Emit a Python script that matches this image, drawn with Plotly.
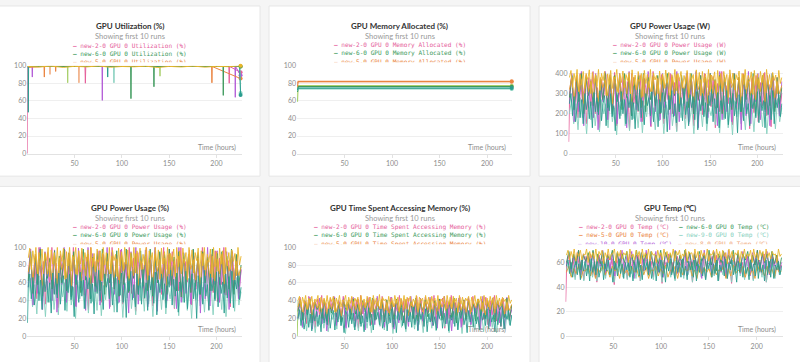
import plotly.graph_objects as go

W, H = 800, 362

# ---------------- colours of the runs ----------------
PINK, GREEN, ORANGE, MINT = "#E5609B", "#3E9A5D", "#EA8441", "#85CFBD"
PURPLE, PEACH, GOLD, TEAL, LIME = "#B35CD7", "#EFA77A", "#E9B52A", "#2A9D8F", "#A9D06D"
GOLD2 = "#E3A12F"

X_TICKS = [50, 100, 150, 200]

# ---------------- panel 1: GPU Utilization (%) ----------------
util_pink_x = [0.1, 0.4, 61.0, 61.4, 61.8, 213.1, 213.5, 213.9, 225.5]
util_pink_y = [0, 99, 99, 80, 99, 99, 80, 99, 92.5]
util_purple_x = [0.5, 5.0, 5.3, 5.6, 79.0, 79.3, 79.6, 219.6, 219.9, 220.2, 225.5]
util_purple_y = [98, 99, 87, 99, 99, 60.5, 99, 99, 64, 99, 89]
util_orange_x = [0.5, 17.7, 18.0, 18.3, 29.7, 30.0, 30.3, 194.9, 195.2, 195.5, 225.5]
util_orange_y = [98, 99, 87, 99, 99, 93.4, 99, 99, 80.5, 99, 85.3]
util_peach_x = [0.5, 23.7, 24.0, 24.3, 54.3, 54.6, 54.9, 225.5]
util_peach_y = [99, 99.5, 90, 99.5, 99.5, 80.5, 99.5, 99]
util_lime_x = [0.5, 42.4, 42.7, 43.0, 140.0, 140.3, 140.6, 225.5]
util_lime_y = [99, 99, 80.5, 99, 99, 88, 99, 99]
util_teal_x = [0.7, 1.0, 1.4, 84.7, 85.0, 85.3, 224.5, 225.5]
util_teal_y = [99, 47, 99, 99, 87, 99, 99, 66.5]
util_mint_x = [0.5, 91.3, 91.6, 91.9, 224.8, 225.5]
util_mint_y = [99, 99, 80.5, 99, 99, 69]
util_green_x = [0.5, 109.3, 109.6, 109.9, 133.6, 133.9, 134.2, 206.9, 207.2, 207.5, 225.5]
util_green_y = [99, 99, 62.5, 99, 99, 76, 99, 99, 66.2, 99, 99]
util_gold_x = [0.5, 12, 25, 38, 50, 63, 75, 88, 100, 113, 125, 138, 150, 163, 175, 188, 200, 213, 225.5]
util_gold_y = [99, 98.5, 99.5, 98, 99.2, 98.6, 99.6, 98.2, 99, 98.7, 99.4, 97.9, 99.1, 98.5, 99.5, 98.3, 99.2, 98.8, 100]

# ---------------- panel 2: GPU Memory Allocated (%) ----------------
mem_hours = [0.5, 1.2, 226]
mem_orange = [76, 82.2, 82.2]
mem_peach = [80, 81.4, 81.4]
mem_gold = [59, 77.2, 77.2]
mem_green = [70, 76.1, 76.1]
mem_teal = [72, 74.5, 74.5]
mem_mint = [71, 73.5, 73.5]

# ---------------- panel 3: GPU Power Usage (W) ----------------
pw_start_x = [0.2, 0.6, 1.2]
pw_start_y = [60, 240, 300]
pw_pink = [300,390,220,360,180,400,260,340,150,380,240,410,200,330,130,370,280,395,170,350,
           230,405,140,320,260,385,190,360,120,400,250,340,210,390,160,375,290,345,135,410,
           220,365,185,395,150,335,270,400,200,355,115,380,245,330,175,405,225,360,140,390,
           265,345,195,400,155,370,235,385,130,350,210,410,180,340,250,395,145,365,220,380,
           170,400,260,335,125,375,205,390,160,355,240,405,190,345,135,385,230,370,200,300]
pw_mint = [200,270,150,250,120,280,180,230,100,260,170,290,140,240,110,270,200,250,130,285,
           160,230,95,260,190,275,140,220,115,280,175,250,130,265,105,240,185,290,150,230,
           120,270,165,255,100,245,195,280,140,225,110,265,180,250,125,290,160,235,100,270,
           175,245,135,280,115,230,190,260,145,275,105,250,170,285,130,240,95,265,185,255,
           150,230,120,280,165,245,110,270,190,250,135,285,100,240,175,260,125,275,160,230]
pw_teal = [250,300,190,285,160,240,310,180,270,150,300,220,290,175,260,130,305,210,280,195,
           320,165,250,290,140,275,215,300,185,240,115,295,260,175,310,200,270,150,285,230,
           300,170,255,125,290,215,320,180,265,145,300,240,280,190,310,160,245,295,135,270,
           205,305,175,260,110,290,225,315,185,250,155,300,210,280,165,325,195,260,140,295,
           230,285,170,310,120,270,215,300,185,255,150,290,240,320,160,275,200,305,130,265,
           220,290,175,315,145,280,235,300,190,260,105,295,210,285,165,320,200,250,140,300,
           225,275,180,310,155,285,215,265,130,300,195,290,170,315,150,270,230,295,185,250]
pw_purple = [250,400,160,380,210,410,140,390,230,370,180,400,120,350,260,410,170,390,200,380,150,400,240,360,130,410,190,380,220,400,160,370,250,410,140,390,210,380,170,400,230,360,120,390,190,410,160,380,240,400,150,370,200,410,130,390,220,380,180,400,250,360,140,410,170,390,210,380,160,400,230,370,120,390,190,410,150,380,260,400,170,370,210,390,140,400,230,380,190,360]
pw_green = [280,390,220,370,260,400,200,380,290,360,240,390,210,370,270,400,230,380,200,390,260,370,220,400,280,380,190,370,250,390,230,400,210,380,270,360,240,390,200,370,260,400,220,380,290,370,210,390,250,380,230,400,200,370,270,390,240,380,210,400,260,370,230,390,200,380,280,370,220,400,250,380,210,390,270,370,230,400,190,380,260,390,220,370,240,400,210,380,250,330]
pw_gold = [380,415,330,400,360,420,310,395,345,410,325,390,370,418,300,405,350,395,335,420,
           315,400,365,410,290,398,345,415,325,385,372,420,305,400,355,412,330,395,365,405,
           298,418,340,392,320,410,360,400,285,415,350,395,330,420,310,402,368,390,300,412,
           345,398,325,417,355,405,295,395,340,420,315,400,362,410,330,390,350,415,305,400,
           370,395,320,418,345,405,290,410,355,398,330,420,310,392,365,408,300,415,340,400,
           325,410,358,395,280,418,350,402,318,395,368,412,305,400,345,420,330,390,360,408,
           295,415,340,398,325,410,355,400,310,420,345,395,330,405,365,392,300,415,350,380]
pw_gold2 = [320,380,270,390,300,370,250,400,310,360,280,390,260,380,330,370,290,395,250,375,310,385,270,365,300,390,260,380,320,370,280,395,250,360,310,385,290,375,260,390,330,370,270,380,300,395,250,365,310,385,280,375,260,390,320,370,290,380,250,395,300,365,270,385,310,375,260,390,330,370,280,380,250,395,300,365,290,385,270,375,310,390,260,370,320,380,280,360,300,340]

# ---------------- panel 4: GPU Power Usage (%) ----------------
pp_start_x = [0.2, 0.6, 1.2]
pp_start_y = [15, 50, 70]
pp_pink = [70,96,52,88,42,100,62,84,36,94,58,100,48,82,32,92,66,97,40,86,
           55,100,34,80,63,95,46,89,30,100,60,84,50,96,38,92,68,86,33,100,
           53,90,44,97,36,83,65,100,48,88,28,94,59,82,42,100,54,90,34,96,
           64,86,47,100,37,91,57,95,31,87,51,100,43,84,61,97,35,90,53,94,
           41,100,63,83,30,92,49,96,39,88,58,100,46,85,33,95,56,91,48,75]
pp_mint = [45,65,33,58,25,68,40,55,22,62,38,70,30,57,24,66,44,60,28,69,
           35,55,20,63,42,67,31,53,26,68,39,60,29,64,23,57,41,70,34,55,
           27,65,37,61,21,59,43,68,31,54,24,64,40,60,28,70,36,56,22,66,
           39,59,30,68,25,55,42,63,32,67,23,60,38,69,29,57,20,64,41,61,
           34,55,27,68,37,59,24,65,43,60,30,69,22,57,39,63,28,66,35,50]
pp_teal = [55,70,42,66,35,58,72,40,63,30,70,50,67,38,60,26,71,47,65,43,
           74,36,58,68,29,64,49,70,41,56,22,69,60,38,72,45,63,31,66,53,
           70,37,59,25,67,48,74,40,61,30,70,55,65,42,72,35,57,69,27,63,
           46,71,38,60,21,67,51,73,41,58,33,70,47,65,36,75,43,60,29,68,
           52,66,37,72,24,63,49,70,41,59,32,67,55,74,35,64,45,71,27,61,
           50,67,38,73,31,65,54,70,42,60,20,68,47,66,36,74,45,58,29,70,
           51,64,40,72,33,66,48,61,26,70,43,67,37,73,32,63,53,68,41,55]
pp_purple = [55,98,35,92,48,100,30,95,52,88,40,97,27,85,58,100,38,94,45,90,33,99,54,86,29,100,42,93,50,96,35,89,56,100,31,94,47,91,38,98,52,87,26,95,43,100,36,92,54,97,33,88,45,100,28,93,50,91,40,98,56,86,31,100,38,94,48,90,36,97,52,89,26,94,42,100,34,91,58,96,38,88,47,95,30,97,52,90,42,75]
pp_green = [62,95,48,90,58,98,45,92,65,87,53,96,47,90,60,98,51,93,44,95,58,89,49,98,63,92,42,89,56,95,51,98,47,93,60,87,53,96,45,90,58,98,49,93,65,90,47,96,56,92,51,98,45,89,60,95,53,92,47,98,58,89,51,95,44,93,62,89,49,98,56,92,47,95,60,89,51,98,42,93,58,95,49,90,53,98,47,92,56,80]
pp_gold = [88,99,75,96,82,100,70,94,79,98,73,92,85,100,67,97,81,94,76,100,
           71,96,84,99,64,95,79,100,73,91,86,100,69,96,81,99,75,94,84,97,
           66,100,78,93,72,98,83,96,62,100,80,94,75,100,70,97,85,92,67,99,
           79,95,73,100,81,97,65,94,78,100,71,96,83,99,75,92,80,100,69,96,
           86,94,72,100,79,97,64,99,81,95,75,100,70,93,84,98,67,100,78,96,
           73,99,82,94,63,100,80,97,71,94,85,99,69,96,79,100,75,92,83,98,
           66,100,78,95,73,99,81,96,70,100,79,94,75,97,84,93,68,100,80,90]
pp_gold2 = [72,88,62,92,68,85,57,94,70,83,63,91,59,88,75,86,66,93,57,87,70,90,62,85,68,92,59,88,73,86,63,93,57,84,70,90,66,87,59,92,75,86,62,88,68,93,57,85,70,90,63,87,59,92,73,86,66,88,57,93,68,85,62,90,70,87,59,92,75,86,63,88,57,93,68,85,66,90,62,87,70,92,59,86,73,88,63,84,68,78]

# ---------------- panel 5: GPU Time Spent Accessing Memory (%) ----------------
ma_start_x = [0.2, 0.6, 1.2]
ma_start_y = [0, 30, 40]
ma_pink = [30,44,20,40,14,45,26,38,10,42,24,46,18,37,12,43,29,44,15,39,
           22,45,11,36,27,43,17,41,9,46,25,38,19,44,13,42,31,39,12,45,
           21,41,16,44,10,37,28,46,18,40,8,43,24,37,15,45,22,41,11,44,
           27,39,17,46,13,42,23,43,9,40,20,46,15,38,26,44,12,41,22,43,
           14,45,28,37,10,42,19,44,13,40,24,46,17,38,11,43,23,41,18,35]
ma_mint = [18,29,10,26,6,30,15,24,4,27,13,31,9,25,5,29,19,26,8,31,
           12,24,3,28,17,30,10,23,6,31,15,26,9,28,4,25,18,32,11,24,
           7,29,14,27,3,26,19,31,10,23,5,28,16,26,8,32,13,25,4,29,
           15,26,9,31,6,24,18,28,11,30,4,26,14,31,8,25,3,28,17,27,
           12,24,7,30,14,26,5,29,19,26,10,31,4,25,16,28,8,29,13,22]
ma_teal = [20,30,12,27,8,22,31,10,25,6,30,17,28,11,24,5,31,15,27,13,
           32,9,23,29,7,26,16,30,12,21,4,29,24,10,31,14,26,7,28,19,
           30,11,23,5,28,16,32,12,25,7,30,19,27,13,31,9,22,29,6,26,
           15,31,10,24,4,28,18,32,12,23,8,30,16,27,10,33,13,24,6,29,
           19,27,11,31,5,25,16,30,12,22,7,28,20,32,9,26,14,31,6,24,
           18,28,11,32,7,27,20,30,13,23,4,29,16,27,10,32,14,22,7,30,
           18,26,12,31,8,27,16,24,5,30,13,28,11,32,8,25,19,29,12,24]
ma_purple = [20,42,10,40,25,44,8,38,22,43,14,41,6,39,28,45,12,40,18,43,9,37,24,44,11,42,16,40,7,43,26,38,13,45,19,41,10,39,23,44,8,40,15,42,27,38,11,45,20,41,7,43,17,39,25,44,12,40,9,42,21,45,14,38,6,41,24,43,10,40,18,44,13,39,26,42,8,45,19,40,11,43,22,38,15,41,9,44,20,30]
ma_green = [28,40,18,38,24,42,15,39,30,36,20,41,17,38,26,43,22,37,16,40,29,38,19,42,25,36,14,40,27,39,21,43,18,37,30,40,16,41,23,38,19,42,28,36,15,40,26,39,20,43,17,37,29,41,22,38,16,40,25,42,18,36,27,39,21,43,15,38,24,41,19,40,28,37,17,42,23,39,20,38,26,41,16,40,29,37,21,43,18,35]
ma_gold = [40,45,33,44,37,46,30,43,36,45,32,42,39,46,28,44,37,43,34,46,
           31,44,39,45,27,43,36,46,33,41,40,46,29,44,37,45,34,43,39,44,
           28,46,35,42,32,45,38,44,27,46,36,43,34,47,31,44,40,42,29,45,
           36,43,33,46,37,44,28,43,35,46,31,44,39,45,34,42,37,46,30,44,
           40,43,32,46,36,44,27,45,37,43,34,46,31,42,39,45,29,46,35,44,
           33,45,38,43,27,46,36,44,31,43,40,45,30,44,36,46,34,42,38,45,
           28,46,35,43,33,45,37,44,31,46,36,43,34,44,39,42,29,46,37,41]
ma_gold2 = [33,41,26,39,30,42,24,40,32,38,27,41,25,39,31,42,28,38,23,40,33,41,26,39,30,42,24,38,32,40,27,41,25,39,31,42,28,38,24,40,33,41,26,39,29,42,23,38,32,40,27,41,25,39,30,42,28,38,24,40,33,41,26,39,31,42,23,38,29,40,27,41,25,39,32,42,28,38,24,40,30,41,26,39,33,42,25,38,29,36]

# ---------------- panel 6: GPU Temp (°C) ----------------
tp_start_x = [0.2, 0.6, 1.2]
tp_start_y = [28, 50, 60]
tp_pink = [58,66,52,64,48,68,55,62,46,65,54,67,50,61,44,66,57,64,49,67,
           53,63,42,65,56,68,50,60,47,67,55,62,51,66,45,64,58,68,52,61,
           48,66,54,63,43,62,57,67,50,60,46,65,55,62,49,68,53,61,44,66,
           56,63,51,67,47,60,58,65,50,66,45,63,54,68,49,61,43,64,57,62,
           52,60,48,66,55,63,46,65,58,62,50,67,44,61,56,64,49,66,53,58]
tp_mint = [54,60,49,58,46,61,52,57,45,60,51,62,48,57,45,59,53,60,47,61,
           50,57,44,59,52,61,48,56,46,62,51,58,47,60,45,57,53,62,49,56,
           46,60,51,59,44,58,54,61,48,56,45,60,52,58,47,62,50,57,44,61,
           51,58,48,62,46,56,53,60,49,61,45,58,50,62,47,57,44,60,52,59,
           49,56,46,61,51,58,45,60,53,58,48,62,44,57,52,60,47,61,50,55]
tp_teal = [57,62,51,60,48,56,63,50,59,46,62,53,61,49,58,45,63,52,60,50,
           63,48,56,61,46,59,53,62,50,55,44,61,58,49,63,51,59,47,60,54,
           62,48,57,45,60,52,63,49,58,46,62,54,60,50,63,47,55,61,45,59,
           52,62,48,57,44,60,53,63,50,56,47,62,52,60,48,63,50,57,46,61,
           54,60,48,62,45,59,52,63,49,56,46,61,55,63,48,59,51,62,45,58,
           53,61,49,63,47,60,54,62,50,57,44,61,52,60,48,63,51,56,46,62,
           53,59,49,63,47,60,52,58,45,62,50,61,48,63,47,58,54,61,50,57]
tp_purple = [58,68,52,66,56,70,50,67,60,65,53,69,48,66,57,70,51,64,55,68,49,67,59,70,52,65,56,69,47,66,58,68,53,70,50,65,57,69,52,67,48,68,60,66,54,70,51,65,56,69,49,67,58,68,53,66,47,70,55,67,50,69,57,65,52,68,48,70,59,66,54,67,51,69,56,65,49,68,58,70,52,66,55,69,50,67,57,65,53,60]
tp_green = [60,69,55,67,58,70,54,66,61,68,56,70,53,67,59,69,55,66,62,70,54,68,57,67,60,69,53,66,58,70,56,68,61,67,54,69,57,66,59,70,55,68,62,67,53,69,58,66,56,70,60,68,54,67,57,69,61,66,55,70,58,68,53,67,60,69,56,66,59,70,54,68,57,67,62,69,55,66,58,70,53,68,60,67,56,69,59,66,54,64]
tp_gold = [66,70,62,69,64,71,61,68,65,70,62,67,66,71,60,69,64,68,63,71,
           61,69,66,70,59,68,64,71,62,67,67,71,60,69,65,70,63,68,66,69,
           60,71,64,67,62,70,65,69,59,71,64,68,63,71,61,69,66,67,60,70,
           64,68,62,71,65,69,60,68,64,71,61,69,66,70,63,67,65,71,61,69,
           67,68,62,71,64,69,59,70,65,68,63,71,61,67,66,70,60,71,64,69,
           62,70,65,68,59,71,64,69,61,68,66,70,60,69,64,71,63,67,65,70,
           60,71,64,68,62,70,65,69,61,71,64,68,63,69,66,67,60,71,65,67]
tp_gold2 = [52,57,48,55,51,58,47,54,53,57,49,56,47,55,52,58,50,54,48,57,53,55,47,58,51,54,49,57,52,55,48,58,50,56,47,54,53,57,49,55,51,58,48,54,52,57,47,56,50,55,53,58,49,54,47,57,51,56,52,55,48,58,50,54,53,57,47,55,49,58,51,54,52,57,48,56,50,55,47,58,53,54,49,57,51,55,48,56,52,53]

# ---------------- texts ----------------
TITLES = ["GPU Utilization (%)", "GPU Memory Allocated (%)", "GPU Power Usage (W)",
          "GPU Power Usage (%)", "GPU Time Spent Accessing Memory (%)", "GPU Temp (℃)"]
METRICS = ["Utilization (%)", "Memory Allocated (%)", "Power Usage (W)",
           "Power Usage (%)", "Time Spent Accessing Memory (%)", "Temp (℃)"]
SUBTITLE = "Showing first 10 runs"
X_LABEL = "Time (hours)"
LEG_RUNS = [("new-2-0", PINK), ("new-6-0", GREEN), ("new-5-0", ORANGE)]
LEG6_LEFT = [("new-2-0", PINK), ("new-5-0", ORANGE), ("new-10-0", PURPLE)]
LEG6_RIGHT = [("new-6-0", GREEN), ("new-9-0", MINT), ("new-8-0", PEACH)]

# ---------------- layout geometry (pixels) ----------------
def xd(l, r):
    return [l / W, r / W]

def yd(t, b):
    return [1 - b / H, 1 - t / H]

PANELS = [
    dict(xdom=xd(27.3, 242), xr=[0, 227], ydom=yd(62, 152), yr=[0, 100], yt=[0, 20, 40, 60, 80, 100]),
    dict(xdom=xd(297, 512), xr=[0, 226.3], ydom=yd(62, 152), yr=[0, 100], yt=[0, 20, 40, 60, 80, 100]),
    dict(xdom=xd(568.5, 782.5), xr=[0, 226.7], ydom=yd(62, 152.3), yr=[0, 439], yt=[0, 100, 200, 300, 400]),
    dict(xdom=xd(27.3, 242), xr=[0, 227], ydom=yd(247.7, 338.7), yr=[0, 100], yt=[0, 20, 40, 60, 80, 100]),
    dict(xdom=xd(297, 512), xr=[0, 226.3], ydom=yd(248, 338.7), yr=[0, 100], yt=[0, 20, 40, 60, 80, 100]),
    dict(xdom=xd(565.5, 782.5), xr=[0, 227], ydom=yd(248, 338.7), yr=[0, 72.2], yt=[0, 20, 40, 60]),
]
PANEL_BOX = [(-5, 1, 260, 175), (269, 1, 530, 175), (539, 1, 805, 175),
             (-5, 185.5, 260, 370), (269, 185.5, 530, 370), (539, 185.5, 805, 370)]
CENTERS = [130, 399.5, 669.5]
XLABEL_RIGHT = [237.7, 507.7, 778]

fig = go.Figure()


def ax(i):
    return ("x" if i == 0 else f"x{i+1}"), ("y" if i == 0 else f"y{i+1}")


def line(i, x, y, color, width=1.0, end_marker=False):
    xa, ya = ax(i)
    fig.add_trace(go.Scatter(x=x, y=y, mode="lines", xaxis=xa, yaxis=ya,
                             line=dict(color=color, width=width), showlegend=False,
                             hoverinfo="skip"))
    if end_marker:
        fig.add_trace(go.Scatter(x=[x[-1]], y=[y[-1]], mode="markers", xaxis=xa, yaxis=ya,
                                 marker=dict(color=color, size=4), showlegend=False,
                                 cliponaxis=False, hoverinfo="skip"))


def spread(values, t0=1.0, t1=226.0):
    n = len(values)
    return [t0 + k * (t1 - t0) / (n - 1) for k in range(n)]


# panel 1
for xs, ys, c in [(util_pink_x, util_pink_y, PINK), (util_purple_x, util_purple_y, PURPLE),
                  (util_orange_x, util_orange_y, ORANGE), (util_peach_x, util_peach_y, PEACH),
                  (util_lime_x, util_lime_y, LIME), (util_mint_x, util_mint_y, MINT),
                  (util_teal_x, util_teal_y, TEAL), (util_green_x, util_green_y, GREEN),
                  (util_gold_x, util_gold_y, GOLD)]:
    line(0, xs, ys, c, 1.0, True)

# panel 2
for ys, c in [(mem_gold, LIME), (mem_green, GREEN), (mem_mint, MINT), (mem_teal, TEAL),
              (mem_peach, PEACH), (mem_orange, ORANGE)]:
    line(1, mem_hours, ys, c, 1.2, True)

# noisy panels
NOISY = [
    (2, pw_start_x, pw_start_y, PINK, [pw_pink, pw_mint, pw_purple, pw_green, pw_gold2, pw_teal, pw_gold]),
    (3, pp_start_x, pp_start_y, TEAL, [pp_pink, pp_mint, pp_purple, pp_green, pp_gold2, pp_teal, pp_gold]),
    (4, ma_start_x, ma_start_y, LIME, [ma_pink, ma_mint, ma_purple, ma_green, ma_gold2, ma_teal, ma_gold]),
    (5, tp_start_x, tp_start_y, PINK, [tp_pink, tp_mint, tp_purple, tp_green, tp_gold2, tp_teal, tp_gold]),
]
NOISY_COLORS = [PINK, MINT, PURPLE, GREEN, GOLD2, TEAL, GOLD]
for i, sx, sy, sc, series in NOISY:
    line(i, sx, sy, sc, 1.0)
    for ys, c in zip(series, NOISY_COLORS):
        line(i, spread(ys), ys, c, 0.9)

# axes
TICKFONT = dict(family="Lato", size=7, color="#8c8c8c")
for i, p in enumerate(PANELS):
    xa, ya = ax(i)
    kx = "xaxis" if i == 0 else f"xaxis{i+1}"
    ky = "yaxis" if i == 0 else f"yaxis{i+1}"
    fig.layout[kx] = dict(domain=p["xdom"], range=p["xr"], anchor=ya, tickvals=X_TICKS,
                          showgrid=False, zeroline=False, showline=True, linecolor="#e2e2e2",
                          linewidth=1, ticks="outside", ticklen=3, tickcolor="#e2e2e2",
                          tickfont=TICKFONT, fixedrange=True)
    fig.layout[ky] = dict(domain=p["ydom"], range=p["yr"], anchor=xa, tickvals=p["yt"],
                          showgrid=True, gridcolor="#efefef", gridwidth=1, zeroline=False,
                          showline=False, ticks="", tickfont=TICKFONT, fixedrange=True)

# panel boxes
shapes = []
for (l, t, r, b) in PANEL_BOX:
    shapes.append(dict(type="rect", xref="paper", yref="paper", x0=l / W, x1=r / W,
                       y0=1 - b / H, y1=1 - t / H, fillcolor="white",
                       line=dict(color="#e6e6e6", width=1), layer="below"))

ann = []


def A(text, x, y, size, color, family="Lato", xanchor="center", yanchor="middle", **kw):
    ann.append(dict(text=text, x=x / W, y=1 - y / H, xref="paper", yref="paper",
                    xanchor=xanchor, yanchor=yanchor, showarrow=False,
                    font=dict(size=size, color=color, family=family), **kw))


LEG_FONT = "DejaVu Sans Mono"
for i in range(6):
    row, col = divmod(i, 3)
    dy = 186.3 * row
    cx = CENTERS[col]
    A(f"<b>{TITLES[i]}</b>", cx, 21 + dy, 8, "#333333")
    A(SUBTITLE, cx, 32 + dy, 7.5, "#999999")
    A(X_LABEL, XLABEL_RIGHT[col], 146 + dy, 7, "#8c8c8c", xanchor="right")
    if i != 5:
        for k, (run, c) in enumerate(LEG_RUNS):
            txt = f"<b>—</b> {run} GPU 0 {METRICS[i]}"
            if k < 2:
                A(txt, cx, [41, 49.3][k] + dy, 6.1, c, family=LEG_FONT)
            else:
                A(txt, cx, 53.2 + dy, 6.1, c, family=LEG_FONT, yanchor="top",
                  height=4.3, valign="top", borderpad=0)
    else:
        for colx, runs in [(576.5, LEG6_LEFT), (676.5, LEG6_RIGHT)]:
            for k, (run, c) in enumerate(runs):
                txt = f"<b>—</b> {run} GPU 0 {METRICS[i]}"
                if k < 2:
                    A(txt, colx, [41, 49.3][k] + dy, 6.1, c, family=LEG_FONT, xanchor="left")
                else:
                    A(txt, colx, 53.2 + dy, 6.1, c, family=LEG_FONT, xanchor="left",
                      yanchor="top", height=4.3, valign="top", borderpad=0)

fig.update_layout(width=W, height=H, margin=dict(l=0, r=0, t=0, b=0),
                  paper_bgcolor="#f5f5f5", plot_bgcolor="rgba(0,0,0,0)",
                  shapes=shapes, annotations=ann, showlegend=False)

fig.write_html("out.html", config=dict(displayModeBar=False),
               post_script="document.body.style.margin='0';document.body.style.overflow='hidden';")
